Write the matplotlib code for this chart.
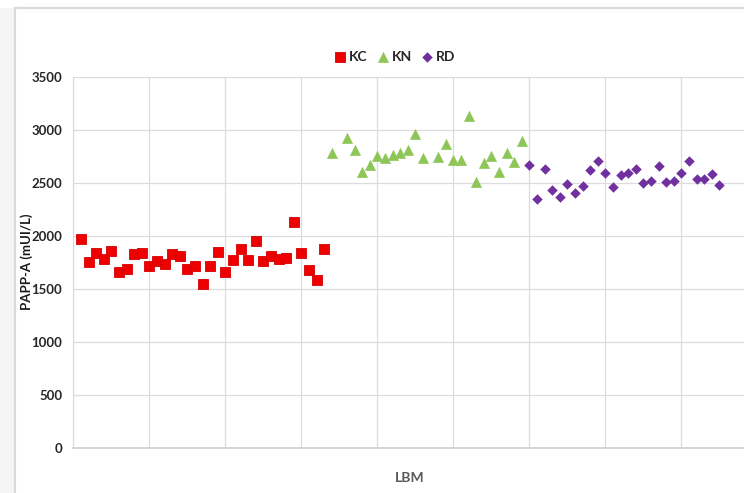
import numpy as np
import matplotlib
matplotlib.use("Agg")
import matplotlib.pyplot as plt
from matplotlib.patches import Rectangle
from matplotlib.lines import Line2D

plt.rcParams['font.family'] = ['Lato', 'DejaVu Sans']

# ---- data ----
kc_values = [1969, 1756, 1841, 1787, 1862, 1662, 1690, 1834, 1841, 1721,
             1765, 1734, 1828, 1815, 1693, 1721, 1550, 1721, 1847, 1659,
             1775, 1881, 1772, 1953, 1768, 1810, 1781, 1796, 2134, 1843,
             1675, 1581, 1875]
kn_values = [2780, np.nan, 2922, 2811, 2604, 2667, 2752, 2740, 2761, 2780,
             2815, 2959, 2733, np.nan, 2745, 2865, 2714, 2717, 3132, 2510,
             2693, 2752, 2601, 2787, 2702, 2896]
rd_values = [2673, 2349, 2632, 2430, 2364, 2493, 2402, 2468, 2619, 2704,
             2594, 2465, 2572, 2594, 2632, 2503, 2519, 2657, 2509, 2519,
             2594, 2710, 2541, 2541, 2581, 2477]
series_names = ["KC", "KN", "RD"]
y_ticks = [0, 500, 1000, 1500, 2000, 2500, 3000, 3500]
y_label = "PAPP-A (mUI/L)"
x_label = "LBM"

kc_x = np.arange(1, len(kc_values) + 1)
kn_x = np.arange(kc_x[-1] + 1, kc_x[-1] + 1 + len(kn_values))
rd_x = np.arange(kn_x[-1] + 1, kn_x[-1] + 1 + len(rd_values))

W, H = 744, 493
fig = plt.figure(figsize=(W / 100, H / 100), dpi=100)
fig.patch.set_facecolor('white')

# outer frame decoration
fig.add_artist(Rectangle((0, 0), 14 / W, 1 - 8 / H, transform=fig.transFigure,
                         facecolor='#f5f5f5', edgecolor='none'))
fig.add_artist(Line2D([15 / W, 15 / W], [0, 1 - 8 / H], transform=fig.transFigure,
                      color='#dadada', lw=1.5))
fig.add_artist(Line2D([15 / W, 1], [1 - 8 / H, 1 - 8 / H], transform=fig.transFigure,
                      color='#dadada', lw=1.5))

x0 = 73.3
px_per_unit = 7.6
ax = fig.add_axes([x0 / W, 45 / H, 90 * px_per_unit / W, 371 / H])

ax.scatter(kc_x, kc_values, marker='s', s=7.3 ** 2, color='#ee0000',
           edgecolors='#d40000', linewidths=0.6, label=series_names[0], zorder=3)
ax.scatter(kn_x, kn_values, marker='^', s=7.5 ** 2, color='#8dc656',
           edgecolors='#8dc656', linewidths=0.3, label=series_names[1], zorder=3)
ax.scatter(rd_x, rd_values, marker='D', s=5.0 ** 2, color='#7030a0',
           edgecolors='#7030a0', linewidths=0.3, label=series_names[2], zorder=3)

ax.set_xlim(0, 90)
ax.set_ylim(0, 3500)
ax.set_yticks(y_ticks)
ax.set_yticklabels([str(v) for v in y_ticks], fontsize=9.5, fontweight='bold',
                   color='#262626')
ax.set_xticks(np.arange(0, 91, 10))
ax.set_xticklabels([])
ax.tick_params(axis='both', length=0)
ax.tick_params(axis='y', pad=8)
ax.grid(True, color='#dcdcdc', lw=0.9)
ax.set_axisbelow(True)
for side in ['top', 'right']:
    ax.spines[side].set_visible(False)
ax.spines['left'].set_color('#d9d9d9')
ax.spines['bottom'].set_color('#cfcfcf')
ax.spines['bottom'].set_linewidth(1.2)

fig.text(27 / W, 1 - 262 / H, y_label, rotation=90, ha='center', va='center',
         fontsize=9.5, fontweight='bold', color='#1a1a1a')
fig.text(410 / W, 1 - 478 / H, x_label, ha='center', va='center',
         fontsize=10, fontweight='bold', color='#595959')

leg = fig.legend(loc='center', bbox_to_anchor=(395 / W, 1 - 57 / H), ncol=3,
                 frameon=False, handletextpad=0.25, columnspacing=0.7,
                 handlelength=0.8, borderpad=0.2,
                 prop={'weight': 'bold', 'size': 10})
for t in leg.get_texts():
    t.set_color('#262626')

fig.savefig('out.png', dpi=100)
